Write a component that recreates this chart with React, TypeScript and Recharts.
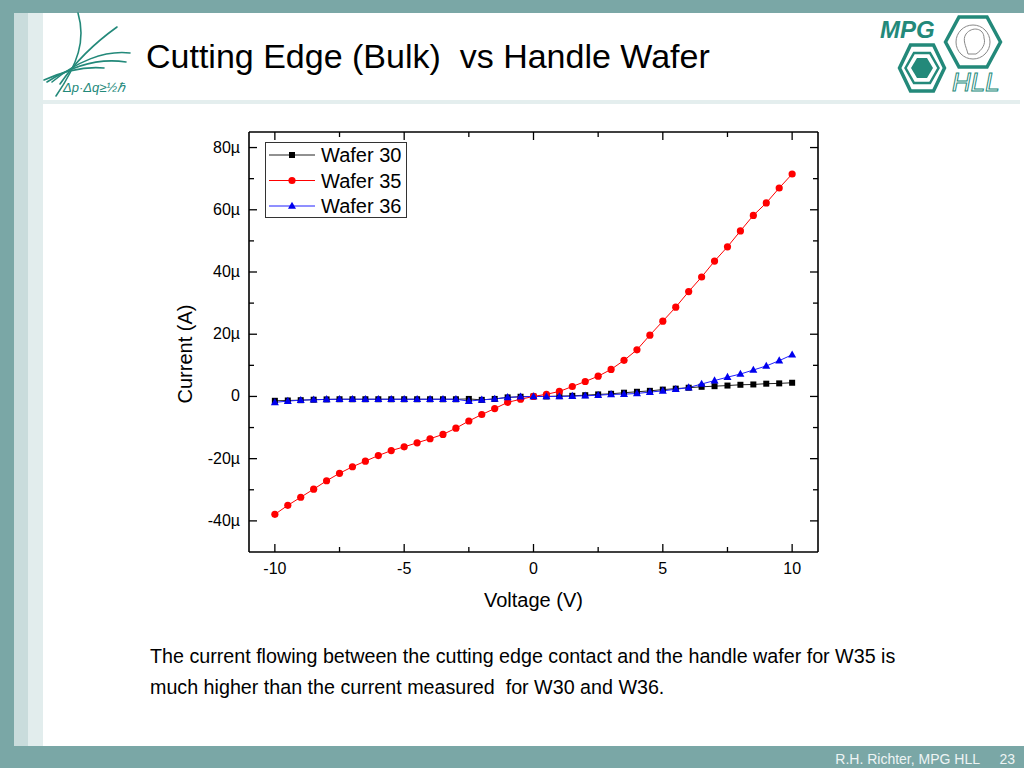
import { Legend, Line, LineChart, XAxis, YAxis } from 'recharts';

// voltage sweep (V)
const voltage = [
  -10, -9.5, -9, -8.5, -8, -7.5, -7, -6.5, -6, -5.5, -5, -4.5, -4, -3.5, -3, -2.5, -2, -1.5, -1, -0.5, 0,
  0.5, 1, 1.5, 2, 2.5, 3, 3.5, 4, 4.5, 5, 5.5, 6, 6.5, 7, 7.5, 8, 8.5, 9, 9.5, 10,
];

// currents in µA
const wafer30 = [
  -1.4, -1.3, -1.2, -1.05, -0.95, -0.9, -0.9, -0.9, -0.9, -0.9, -0.9, -0.9, -0.9, -0.9, -0.9, -0.8, -1.1, -0.8, -0.3, -0.1, 0,
  0.0, 0.1, 0.2, 0.4, 0.65, 0.85, 1.2, 1.5, 1.8, 2.2, 2.5, 2.8, 3.1, 3.3, 3.5, 3.75, 3.85, 4.1, 4.2, 4.4,
];
const wafer35 = [
  -37.9, -35.0, -32.4, -29.8, -27.1, -24.7, -22.6, -20.8, -19.0, -17.4, -16.2, -14.9, -13.6, -12.2, -10.2, -7.9, -5.8, -3.9, -1.9, -0.9, 0,
  0.7, 1.6, 3.2, 4.8, 6.5, 8.7, 11.6, 15.0, 19.7, 24.2, 28.7, 33.7, 38.4, 43.5, 48.1, 53.2, 58.2, 62.2, 67.0, 71.5,
];
const wafer36 = [
  -1.9, -1.5, -1.2, -1.05, -0.95, -0.9, -0.9, -0.9, -0.9, -0.9, -0.9, -0.9, -0.9, -0.9, -0.9, -1.5, -1.1, -0.8, -0.3, -0.1, 0,
  0, 0, 0.1, 0.2, 0.4, 0.65, 0.75, 0.95, 1.4, 1.8, 2.3, 2.85, 4.0, 5.1, 6.2, 7.2, 8.5, 9.8, 11.5, 13.4,
];

const xTicks = [-10, -7.5, -5, -2.5, 0, 2.5, 5, 7.5, 10];
const xMajor = [-10, -5, 0, 5, 10];
const yTicks = [-40, -30, -20, -10, 0, 10, 20, 30, 40, 50, 60, 70, 80];
const yMajor = [-40, -20, 0, 20, 40, 60, 80];

const data = voltage.map((v, i) => ({ v, w30: wafer30[i], w35: wafer35[i], w36: wafer36[i] }));

const FONT = '"Liberation Sans", Arial, sans-serif';
const TEAL = '#7aa7a6';
const LOGO = '#23897a';

const yLabel = (v: number) => (v === 0 ? '0' : `${v}µ`);

const square = (cx: number, cy: number, fill: string) => (
  <rect x={cx - 3} y={cy - 3} width={6} height={6} fill={fill} />
);
const circle = (cx: number, cy: number, fill: string) => <circle cx={cx} cy={cy} r={3.6} fill={fill} />;
const triangle = (cx: number, cy: number, fill: string) => (
  <polygon points={`${cx},${cy - 4.3} ${cx + 4},${cy + 2.8} ${cx - 4},${cy + 2.8}`} fill={fill} />
);

const series = [
  { key: 'w30', name: 'Wafer 30', color: '#000000', line: '#222222', marker: square },
  { key: 'w35', name: 'Wafer 35', color: '#ff0000', line: '#ff0000', marker: circle },
  { key: 'w36', name: 'Wafer 36', color: '#0000ee', line: '#2020ff', marker: triangle },
];

function BottomTick({ x, y, payload }: any) {
  const major = xMajor.includes(payload.value);
  return (
    <g>
      <line x1={x} y1={y} x2={x} y2={y - (major ? 8 : 5)} stroke="#000" strokeWidth={1.3} />
      {major && (
        <text x={x} y={y + 22} textAnchor="middle" fontSize={16} fontFamily={FONT} fill="#000">
          {payload.value}
        </text>
      )}
    </g>
  );
}

function TopTick({ x, y, payload }: any) {
  const major = xMajor.includes(payload.value);
  return <line x1={x} y1={y} x2={x} y2={y + (major ? 8 : 5)} stroke="#000" strokeWidth={1.3} />;
}

function LeftTick({ x, y, payload }: any) {
  const major = yMajor.includes(payload.value);
  return (
    <g>
      <line x1={x} y1={y} x2={x + (major ? 8 : 5)} y2={y} stroke="#000" strokeWidth={1.3} />
      {major && (
        <text x={x - 9} y={y + 5} textAnchor="end" fontSize={16} fontFamily={FONT} fill="#000">
          {yLabel(payload.value)}
        </text>
      )}
    </g>
  );
}

function RightTick({ x, y, payload }: any) {
  const major = yMajor.includes(payload.value);
  return <line x1={x} y1={y} x2={x - (major ? 8 : 5)} y2={y} stroke="#000" strokeWidth={1.3} />;
}

function LegendBox({ payload }: any) {
  const items = (payload || []).map((p: any) => series.find((s) => s.key === p.dataKey) || series[0]);
  return (
    <svg width={143} height={77} style={{ display: 'block' }}>
      <rect x={0.5} y={0.5} width={141} height={75} fill="#fff" stroke="#333" strokeWidth={1} />
      {items.map((s: any, i: number) => {
        const cy = 13 + i * 25.5;
        return (
          <g key={s.key}>
            <line x1={4} y1={cy} x2={50} y2={cy} stroke={s.line} strokeWidth={1} />
            {s.marker(27, cy, s.color)}
            <text x={56} y={cy + 7} fontSize={20} fontFamily={FONT} fill="#000">
              {s.name}
            </text>
          </g>
        );
      })}
    </svg>
  );
}

function Decorations() {
  return (
    <svg width={1024} height={768} style={{ position: 'absolute', left: 0, top: 0 }}>
      <rect x={0} y={0} width={1024} height={768} fill={TEAL} />
      <rect x={14} y={13} width={1010} height={733} fill="#c9dcdc" />
      <rect x={28} y={13} width={996} height={733} fill="#e2eded" />
      <rect x={43} y={13} width={981} height={733} fill="#ffffff" />
      <rect x={43} y={100} width={977} height={4} fill="#e4eeee" />

      {/* left logo */}
      <g fill="none" stroke={LOGO} strokeWidth={1.6} strokeLinecap="round">
        <path d="M56 96 C 78 64, 86 40, 78 13" />
        <path d="M60 84 C 78 58, 96 42, 117 27" />
        <path d="M52 82 C 76 62, 104 50, 130 53" />
        <path d="M47 82 C 72 66, 100 58, 126 62" />
        <path d="M44 80 C 62 72, 82 66, 104 68" />
      </g>
      <text x={63} y={92} fontSize={13} fontStyle="italic" fontFamily={FONT} fill={LOGO}>
        Δp·Δq≥½ℏ
      </text>

      {/* MPG HLL logo */}
      <g fill="none" stroke={LOGO}>
        <polygon points="945.5,42 959,17 987,17 1000.5,42 987,67 959,67" strokeWidth={3.5} />
        <polygon points="899.5,68 910.5,45 933.5,45 944.5,68 933.5,91 910.5,91" strokeWidth={3.5} />
        <polygon points="905.5,68 914,53 930,53 938.5,68 930,83 914,83" strokeWidth={2.5} />
        <circle cx={973} cy={42} r={17} stroke="#888" strokeWidth={1} />
      </g>
      <polygon points="911,68 917,58 927,58 933,68 927,78 917,78" fill={LOGO} />
      <path d="M966 34 C 972 26, 984 28, 984 38 C 986 44, 982 50, 976 54 L 968 54 C 966 46, 962 40, 966 34 Z" fill="none" stroke="#888" strokeWidth={1} />
      <text x={880} y={38} fontSize={24} fontWeight="bold" fontStyle="italic" fontFamily={FONT} fill={LOGO}>
        MPG
      </text>
      <text x={952} y={91} fontSize={26} fontStyle="italic" fontFamily={FONT} fill="none" stroke={LOGO} strokeWidth={1}>
        HLL
      </text>

      <text x={146} y={68} fontSize={34} fontFamily={FONT} fill="#000" style={{ whiteSpace: 'pre' }}>
        {'Cutting Edge (Bulk)  vs Handle Wafer'}
      </text>

      <text x={150} y={663} fontSize={19.7} fontFamily={FONT} fill="#000">
        The current flowing between the cutting edge contact and the handle wafer for W35 is
      </text>
      <text x={150} y={694} fontSize={19.7} fontFamily={FONT} fill="#000" style={{ whiteSpace: 'pre' }}>
        {'much higher than the current measured  for W30 and W36.'}
      </text>

      <text x={980} y={764} textAnchor="end" fontSize={14} fontFamily={FONT} fill="#eef4f4">
        R.H. Richter, MPG HLL
      </text>
      <text x={1015} y={764} textAnchor="end" fontSize={14} fontFamily={FONT} fill="#eef4f4">
        23
      </text>
    </svg>
  );
}

export default function App() {
  return (
    <div style={{ position: 'absolute', left: 0, top: 0, width: 1024, height: 768, overflow: 'hidden', fontFamily: FONT }}>
      <Decorations />
      <div style={{ position: 'absolute', left: 140, top: 112 }}>
        <LineChart width={720} height={520} data={data} margin={{ top: 19, right: 41, bottom: 20, left: 29 }}>
          <XAxis
            xAxisId="b"
            dataKey="v"
            type="number"
            domain={[-11, 11]}
            ticks={xTicks}
            interval={0}
            height={60}
            tickSize={0}
            tickMargin={0}
            tickLine={false}
            tick={<BottomTick />}
            axisLine={{ stroke: '#000', strokeWidth: 1.6 }}
            allowDataOverflow
          />
          <XAxis
            xAxisId="t"
            dataKey="v"
            type="number"
            orientation="top"
            domain={[-11, 11]}
            ticks={xTicks}
            interval={0}
            height={1}
            tickSize={0}
            tickMargin={0}
            tickLine={false}
            tick={<TopTick />}
            axisLine={{ stroke: '#000', strokeWidth: 1.6 }}
            allowDataOverflow
          />
          <YAxis
            yAxisId="l"
            type="number"
            domain={[-50, 85]}
            ticks={yTicks}
            interval={0}
            width={80}
            tickSize={0}
            tickMargin={0}
            tickLine={false}
            tick={<LeftTick />}
            axisLine={{ stroke: '#000', strokeWidth: 1.6 }}
            allowDataOverflow
          />
          <YAxis
            yAxisId="r"
            type="number"
            orientation="right"
            domain={[-50, 85]}
            ticks={yTicks}
            interval={0}
            width={1}
            tickSize={0}
            tickMargin={0}
            tickLine={false}
            tick={<RightTick />}
            axisLine={{ stroke: '#000', strokeWidth: 1.6 }}
            allowDataOverflow
          />
          <Legend
            layout="horizontal"
            verticalAlign="middle"
            align="center"
            content={<LegendBox />}
            wrapperStyle={{ left: 125, top: 30, width: 143, height: 77 }}
          />
          {series.map((s) => (
            <Line
              key={s.key}
              xAxisId="b"
              yAxisId="l"
              dataKey={s.key}
              name={s.name}
              stroke={s.line}
              strokeWidth={1}
              dot={(p: any) => <g key={`${s.key}-${p.index}`}>{s.marker(p.cx, p.cy, s.color)}</g>}
              activeDot={false}
              isAnimationActive={false}
            />
          ))}
        </LineChart>
      </div>
      <div
        style={{
          position: 'absolute',
          left: 484,
          top: 588,
          fontSize: 20,
          lineHeight: '24px',
          color: '#000',
        }}
      >
        Voltage (V)
      </div>
      <div
        style={{
          position: 'absolute',
          left: 185,
          top: 354,
          fontSize: 20,
          lineHeight: '24px',
          color: '#000',
          whiteSpace: 'nowrap',
          transform: 'translate(-50%, -50%) rotate(-90deg)',
        }}
      >
        Current (A)
      </div>
    </div>
  );
}
